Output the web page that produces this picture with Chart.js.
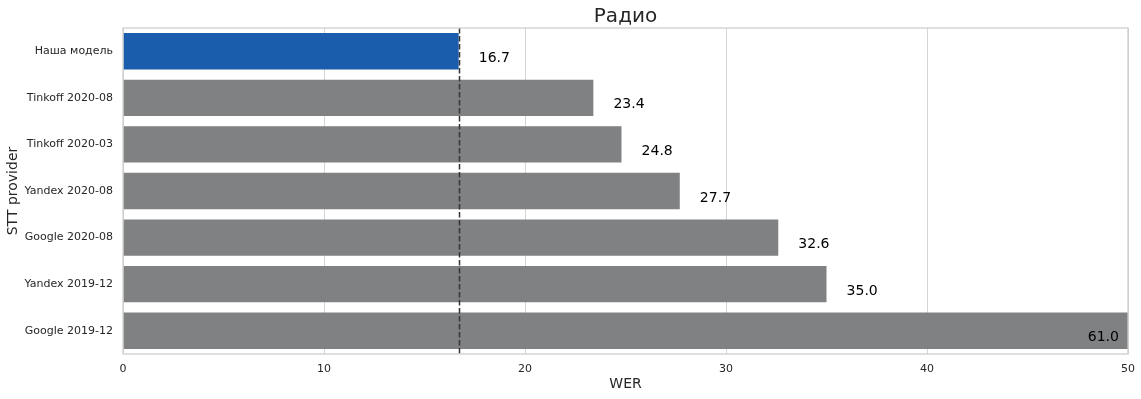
<!DOCTYPE html>
<html>
<head>
<meta charset="utf-8">
<script src="https://cdn.jsdelivr.net/npm/chart.js@4"></script>
<style>
  html, body { margin: 0; padding: 0; background: #fff; }
  #wrap { width: 1141px; height: 399px; }
</style>
</head>
<body>
<div id="wrap"><canvas id="c"></canvas></div>
<script>
const providers = ['Наша модель', 'Tinkoff 2020-08', 'Tinkoff 2020-03', 'Yandex 2020-08', 'Google 2020-08', 'Yandex 2019-12', 'Google 2019-12'];
const wer = [16.7, 23.4, 24.8, 27.7, 32.6, 35.0, 61.0];
const xTicks = [0, 10, 20, 30, 40, 50];
const baseline = 16.7;
const chartTitle = 'Радио';

const FONT = 'DejaVu Sans';

// dashed line at our model's WER, value labels, frame, title over the plot area
const extras = {
    id: 'extras',
    afterDatasetsDraw(chart) {
        const ctx = chart.ctx;
        const area = chart.chartArea;
        const x = chart.scales.x;
        const y = chart.scales.y;

        ctx.save();
        ctx.font = '14px ' + FONT;
        ctx.fillStyle = '#000';
        ctx.textAlign = 'left';
        ctx.textBaseline = 'middle';
        wer.forEach((v, i) => {
            const pos = Math.min(v + 1, 48);
            ctx.fillText(v.toFixed(1), x.getPixelForValue(pos), y.getPixelForValue(i) + 7);
        });

        ctx.strokeStyle = '#333';
        ctx.lineWidth = 1.5;
        ctx.setLineDash([5.5, 2.5]);
        const lx = Math.round(x.getPixelForValue(baseline)) + 0.5;
        ctx.beginPath();
        ctx.moveTo(lx, area.top);
        ctx.lineTo(lx, area.bottom);
        ctx.stroke();

        ctx.setLineDash([]);
        ctx.strokeStyle = '#cccccc';
        ctx.lineWidth = 1.25;
        ctx.strokeRect(area.left, area.top, area.right - area.left, area.bottom - area.top);

        ctx.font = '20px ' + FONT;
        ctx.fillStyle = '#262626';
        ctx.textAlign = 'center';
        ctx.fillText(chartTitle, (area.left + area.right) / 2, 17);
        ctx.restore();
    }
};

new Chart(document.getElementById('c'), {
    type: 'bar',
    data: {
        labels: providers,
        datasets: [{
            data: wer,
            backgroundColor: wer.map((v, i) => i === 0 ? '#1a5dad' : '#808183'),
            borderWidth: 0,
            categoryPercentage: 1.0,
            barPercentage: 0.78
        }]
    },
    options: {
        indexAxis: 'y',
        responsive: true,
        maintainAspectRatio: false,
        animation: false,
        layout: { padding: { left: 0, right: 0, top: 28, bottom: 0 } },
        plugins: {
            legend: { display: false },
            tooltip: { enabled: false },
            title: { display: false }
        },
        scales: {
            x: {
                min: 0,
                max: 50,
                afterBuildTicks: (scale) => { scale.ticks = xTicks.map(v => ({ value: v })); },
                afterFit: (scale) => {
                    scale.height = 45;
                    scale.paddingRight = 13;
                    scale.paddingLeft = 0;
                },
                grid: { color: '#d5d5d5', lineWidth: 1, drawTicks: false },
                border: { display: false },
                ticks: {
                    color: '#262626',
                    font: { family: FONT, size: 11 },
                    padding: 9,
                    maxRotation: 0
                },
                title: {
                    display: true,
                    text: 'WER',
                    color: '#262626',
                    font: { family: FONT, size: 14 },
                    padding: { top: 2, bottom: 6 }
                }
            },
            y: {
                afterFit: (scale) => { scale.width = 123; },
                grid: { display: false, drawTicks: false },
                border: { display: false },
                ticks: {
                    color: '#262626',
                    font: { family: FONT, size: 11 },
                    padding: 10
                },
                title: {
                    display: true,
                    text: 'STT provider',
                    color: '#262626',
                    font: { family: FONT, size: 14 },
                    padding: { top: 5, bottom: 0 }
                }
            }
        }
    },
    plugins: [extras]
});
</script>
</body>
</html>
